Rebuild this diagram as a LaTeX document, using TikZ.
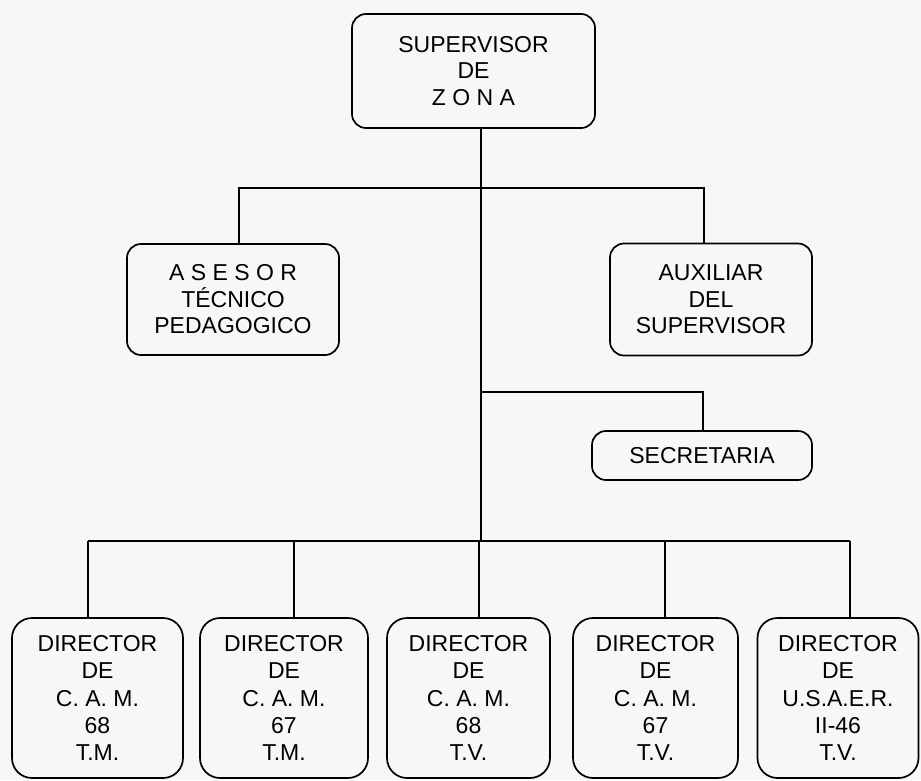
\documentclass[tikz,border=0pt]{standalone}
\usepackage{fontspec}
\setmainfont{Liberation Sans}
\usetikzlibrary{positioning}

\begin{document}
\begin{tikzpicture}[x=1pt,y=-1pt,line width=1.7pt,
  caja/.style={draw,rounded corners=14pt,align=center,inner sep=0pt,font=\fontsize{23}{26.5}\selectfont},
  dir/.style={caja,rounded corners=20pt,minimum height=160pt,font=\fontsize{23}{27.3}\selectfont}]
  \fill[black!3] (0,0) rectangle (921,780);
  \useasboundingbox (0,0) rectangle (921,780);

  \node[caja,minimum width=243pt,minimum height=114pt] (sup) at (473.5,71) {SUPERVISOR\\DE\\Z O N A};
  \node[caja,minimum width=212pt,minimum height=111pt] (ase) at (233,299.5) {A S E S O R\\TÉCNICO\\PEDAGOGICO};
  \node[caja,minimum width=202pt,minimum height=112pt] (aux) at (711,299.5) {AUXILIAR\\DEL\\SUPERVISOR};
  \node[caja,minimum width=220pt,minimum height=49pt] (sec) at (702,455.5) {SECRETARIA};

  \node[dir,minimum width=171pt] (d1) at (97.5,698) {DIRECTOR\\DE\\C. A. M.\\68\\T.M.};
  \node[dir,minimum width=168pt] (d2) at (284,698) {DIRECTOR\\DE\\C. A. M.\\67\\T.M.};
  \node[dir,minimum width=163pt] (d3) at (468.5,698) {DIRECTOR\\DE\\C. A. M.\\68\\T.V.};
  \node[dir,minimum width=165pt] (d4) at (655.5,698) {DIRECTOR\\DE\\C. A. M.\\67\\T.V.};
  \node[dir,minimum width=161pt] (d5) at (838,698) {DIRECTOR\\DE\\U.S.A.E.R.\\II-46\\T.V.};

  \coordinate (t1) at (481,188);
  \coordinate (t2) at (481,392);
  \coordinate (t3) at (481,541);
  \coordinate (jl) at (239,188);
  \coordinate (jr) at (704,188);
  \coordinate (js) at (703,392);

  \draw (sup.south -| t1) -- (t3);
  \draw (ase.north -| jl) -- (jl) -- (jr) -- (aux.north -| jr);
  \draw (t2) -- (js) -- (sec.north -| js);

  \coordinate (s1) at (88,541);
  \coordinate (s2) at (294,541);
  \coordinate (s3) at (479,541);
  \coordinate (s4) at (665,541);
  \coordinate (s5) at (850,541);
  \draw (s1) -- (s5);
  \foreach \n in {1,...,5}
    \draw (s\n) -- (s\n |- d\n.north);
\end{tikzpicture}
\end{document}
